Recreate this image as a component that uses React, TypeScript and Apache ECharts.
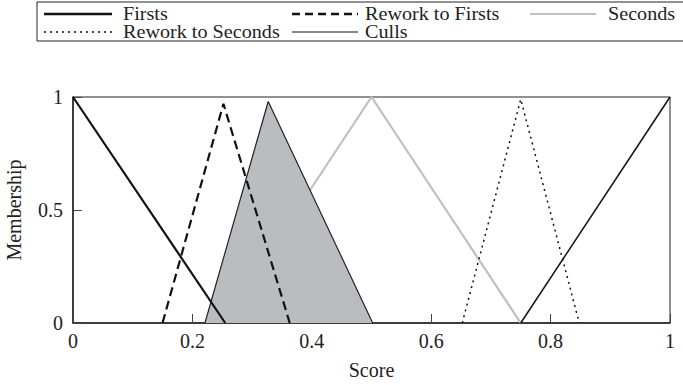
import React, { useEffect, useRef } from "react";
import * as echarts from "echarts";

const FONT = "'Liberation Serif', 'Times New Roman', serif";

const xTicks = [0, 0.2, 0.4, 0.6, 0.8, 1];
const yTicks = [0, 0.5, 1];

const firsts: [number, number][] = [[0, 1], [0.255, 0]];
const reworkFirsts: [number, number][] = [[0.15, 0], [0.252, 0.97], [0.363, 0]];
const seconds: [number, number][] = [[0.25, 0], [0.5, 1], [0.75, 0]];
const shaded: [number, number][] = [[0.221, 0], [0.327, 0.98], [0.502, 0]];
const reworkSeconds: [number, number][] = [[0.652, 0], [0.75, 0.99], [0.848, 0]];
const culls: [number, number][] = [[0.75, 0], [1, 1]];

const legendNames = ["Firsts", "Rework to Firsts", "Seconds", "Rework to Seconds", "Culls"];

export default function App() {
  const ref = useRef<HTMLDivElement>(null);
  useEffect(() => {
    if (!ref.current) return;
    const chart = echarts.init(ref.current, undefined, { renderer: "svg" });

    const r1 = 14;
    const r2 = 32;
    const legendItems = [
      { name: legendNames[0], x: 44, len: 68, tx: 123, y: r1, color: "#111", width: 2.5, dash: null as any },
      { name: legendNames[1], x: 292, len: 66, tx: 365, y: r1, color: "#111", width: 2.5, dash: [8, 5] },
      { name: legendNames[2], x: 530, len: 66, tx: 608, y: r1, color: "#c0c0c0", width: 2, dash: null },
      { name: legendNames[3], x: 44, len: 68, tx: 123, y: r2, color: "#111", width: 1.5, dash: [2, 4] },
      { name: legendNames[4], x: 292, len: 66, tx: 365, y: r2, color: "#111", width: 1.2, dash: null },
    ];
    const graphic: any[] = [
      {
        type: "rect",
        shape: { x: 37, y: 2, width: 660, height: 39 },
        style: { fill: "none", stroke: "#222", lineWidth: 1 },
        silent: true,
      },
    ];
    legendItems.forEach((it) => {
      graphic.push({
        type: "line",
        shape: { x1: it.x, y1: it.y, x2: it.x + it.len, y2: it.y },
        style: { stroke: it.color, lineWidth: it.width, lineDash: it.dash || undefined },
        silent: true,
      });
      graphic.push({
        type: "text",
        x: it.tx,
        y: it.y,
        scaleX: 1.12,
        style: {
          text: it.name,
          fill: "#222",
          fontFamily: FONT,
          fontSize: 18,
          verticalAlign: "middle",
          align: "left",
        },
        silent: true,
      });
    });

    const common = { type: "line", symbol: "none", silent: true };
    const labelStyle = { fontFamily: FONT, fontSize: 20, color: "#222" };

    chart.setOption({
      animation: false,
      backgroundColor: "#ffffff",
      textStyle: { fontFamily: FONT },
      graphic,
      grid: {
        left: 73,
        right: 13,
        top: 97,
        bottom: 62,
        show: true,
        borderColor: "#222",
        borderWidth: 1,
        containLabel: false,
        outerBoundsMode: "none",
      },
      xAxis: {
        type: "value",
        min: 0,
        max: 1,
        interval: 0.2,
        name: "Score",
        nameLocation: "middle",
        nameGap: 37,
        nameTextStyle: labelStyle,
        axisLine: { show: true, lineStyle: { color: "#222", width: 1.5 } },
        axisTick: { show: true, inside: true, length: 9, lineStyle: { color: "#444" } },
        axisLabel: {
          ...labelStyle,
          margin: 8,
          formatter: (v: number) => {
            const t = xTicks.find((k) => Math.abs(k - v) < 1e-9);
            return t === undefined ? "" : String(t);
          },
        },
        splitLine: { show: false },
      },
      yAxis: {
        type: "value",
        min: 0,
        max: 1,
        interval: 0.5,
        name: "Membership",
        nameLocation: "middle",
        nameGap: 49,
        nameRotate: 90,
        nameTextStyle: labelStyle,
        axisLine: { show: true, lineStyle: { color: "#222", width: 1.5 } },
        axisTick: { show: true, inside: true, length: 9, lineStyle: { color: "#444" } },
        axisLabel: {
          ...labelStyle,
          margin: 10,
          formatter: (v: number) => {
            const t = yTicks.find((k) => Math.abs(k - v) < 1e-9);
            return t === undefined ? "" : String(t);
          },
        },
        splitLine: { show: false },
      },
      series: [
        {
          ...common,
          name: legendNames[2],
          data: seconds,
          lineStyle: { color: "#c0c0c0", width: 2.2 },
          z: 2,
        },
        {
          ...common,
          name: "Shaded",
          data: shaded,
          lineStyle: { color: "#222", width: 1.2 },
          areaStyle: { color: "#bbbcc0", opacity: 1, origin: "start" },
          z: 3,
        },
        {
          ...common,
          name: legendNames[0],
          data: firsts,
          lineStyle: { color: "#111", width: 2.2 },
          z: 4,
        },
        {
          ...common,
          name: legendNames[1],
          data: reworkFirsts,
          lineStyle: { color: "#111", width: 2.2, type: [9, 5] },
          z: 4,
        },
        {
          ...common,
          name: legendNames[3],
          data: reworkSeconds,
          lineStyle: { color: "#111", width: 1.5, type: [2, 4] },
          z: 4,
        },
        {
          ...common,
          name: legendNames[4],
          data: culls,
          lineStyle: { color: "#111", width: 1.5 },
          z: 4,
        },
      ],
    });
    return () => chart.dispose();
  }, []);
  return <div ref={ref} style={{ width: 683, height: 385, position: "absolute", left: 0, top: 0 }} />;
}
